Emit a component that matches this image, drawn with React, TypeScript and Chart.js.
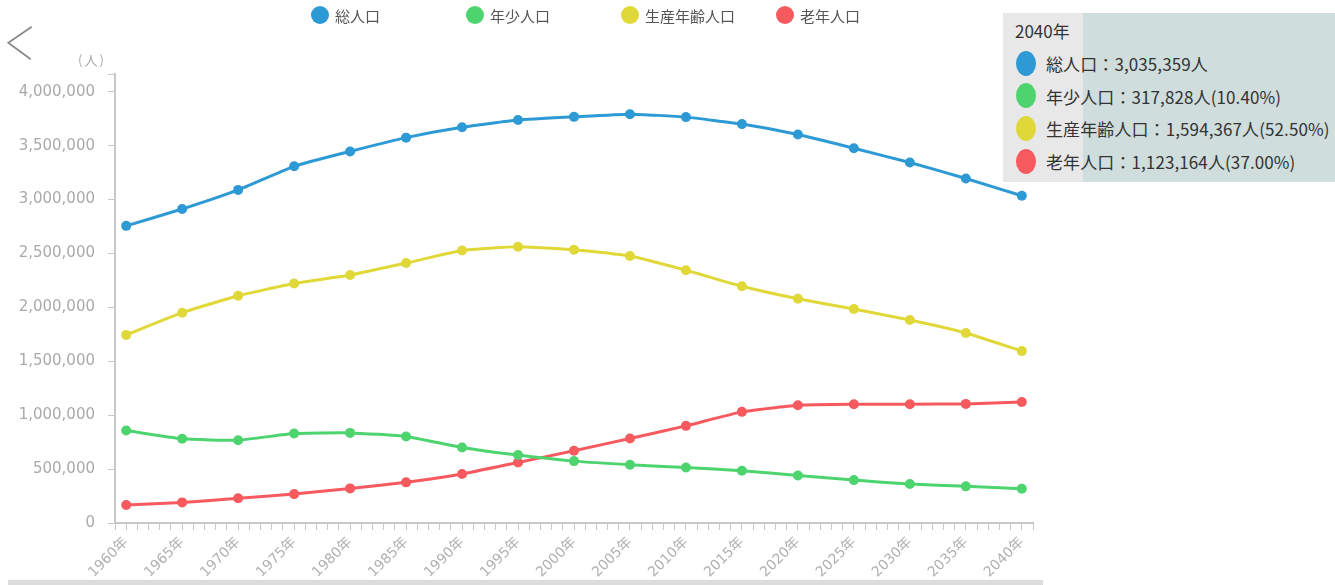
import React, { useEffect, useRef } from 'react';
import { Chart, registerables } from 'chart.js';

Chart.register(...registerables);

// ---- data ----
const years = [1960, 1965, 1970, 1975, 1980, 1985, 1990, 1995, 2000, 2005, 2010, 2015, 2020, 2025, 2030, 2035, 2040];
const totalPop = [2756271, 2912521, 3089895, 3308799, 3446804, 3574692, 3670840, 3737689, 3767393, 3792377, 3765007, 3700305, 3603000, 3476000, 3344000, 3196000, 3035359];
const youngPop = [858000, 781000, 768000, 830000, 836000, 803000, 701000, 630000, 574000, 540000, 515000, 484000, 441000, 398000, 361000, 340000, 317828];
const workingPop = [1745000, 1951000, 2108000, 2222000, 2300000, 2411000, 2528000, 2562000, 2535000, 2476000, 2344000, 2196000, 2080000, 1985000, 1883000, 1762000, 1594367];
const elderlyPop = [167000, 191000, 229000, 268000, 321000, 377000, 454000, 562000, 670000, 784000, 901000, 1031000, 1093000, 1102000, 1102000, 1105000, 1123164];

const seriesNames = ['総人口', '年少人口', '生産年齢人口', '老年人口'];
const seriesData = [totalPop, youngPop, workingPop, elderlyPop];
const seriesColors = ['#2d9ad6', '#4ed46f', '#e0d838', '#f65a5f'];

const yTickValues = [0, 500000, 1000000, 1500000, 2000000, 2500000, 3000000, 3500000, 4000000];
const yAxisTop = 4165000;
const xAxisMin = 1959;
const xAxisMax = 2041;
const unitLabel = '(人)';

const tipIndex = years.length - 1;

function fmt(n: number) {
  return n.toLocaleString('en-US');
}
function pct(v: number, total: number) {
  return (Math.floor((v / total) * 1000) / 10).toFixed(2) + '%';
}

export default function App() {
  const ref = useRef<HTMLCanvasElement>(null);

  useEffect(() => {
    const canvas = ref.current;
    if (!canvas) return;
    const xTicks: number[] = [];
    for (let y = xAxisMin; y <= xAxisMax; y++) xTicks.push(y);

    const chart = new Chart(canvas, {
      type: 'line',
      data: {
        datasets: seriesData.map((arr, i) => ({
          label: seriesNames[i],
          data: years.map((x, j) => ({ x, y: arr[j] })),
          borderColor: seriesColors[i],
          backgroundColor: seriesColors[i],
          pointBackgroundColor: seriesColors[i],
          pointBorderColor: seriesColors[i],
          pointRadius: 5,
          pointBorderWidth: 0,
          borderWidth: 3,
          tension: 0.15,
          fill: false,
        })),
      },
      options: {
        animation: false,
        responsive: false,
        maintainAspectRatio: false,
        layout: { padding: { left: 0, top: 74, right: 302, bottom: 0 } },
        plugins: {
          legend: { display: false },
          tooltip: { enabled: false },
        },
        scales: {
          x: {
            type: 'linear',
            min: xAxisMin,
            max: xAxisMax,
            afterBuildTicks: (s: any) => {
              s.ticks = xTicks.map((v) => ({ value: v }));
            },
            afterFit: (s: any) => {
              s.height = 62;
            },
            ticks: {
              autoSkip: false,
              maxRotation: 45,
              minRotation: 45,
              padding: 4,
              color: '#b0b0b0',
              font: { family: '"DejaVu Sans", "Noto Sans CJK JP", sans-serif', size: 14 },
              callback: (v: any) => (Number(v) % 5 === 0 ? v + '年' : ''),
            },
            grid: { drawOnChartArea: false, drawTicks: true, tickLength: 7, color: '#c8c8c8', lineWidth: 1 },
            border: { color: '#c8c8c8', width: 2 },
          },
          y: {
            min: 0,
            max: yAxisTop,
            afterBuildTicks: (s: any) => {
              s.ticks = [...yTickValues, yAxisTop].map((v) => ({ value: v }));
            },
            afterFit: (s: any) => {
              s.width = 115;
            },
            ticks: {
              padding: 13,
              color: '#aaaaaa',
              font: { family: '"DejaVu Sans", sans-serif', size: 15 },
              callback: (v: any) => (Number(v) % 500000 === 0 ? fmt(Number(v)) : ''),
            },
            grid: { drawOnChartArea: false, drawTicks: true, tickLength: 7, color: '#c8c8c8', lineWidth: 1 },
            border: { color: '#c8c8c8', width: 2 },
          },
        },
      },
    });
    return () => chart.destroy();
  }, []);

  const total = totalPop[tipIndex];
  const tipRows = seriesNames.map((name, i) => {
    const v = seriesData[i][tipIndex];
    return i === 0 ? `${name}：${fmt(v)}人` : `${name}：${fmt(v)}人(${pct(v, total)})`;
  });

  const cjk = '"Noto Sans CJK JP", "Noto Sans", sans-serif';

  return (
    <div style={{ position: 'absolute', left: 0, top: 0, width: 1335, height: 585, overflow: 'hidden', background: '#fff' }}>
      <canvas ref={ref} width={1335} height={585} style={{ position: 'absolute', left: 0, top: 0, display: 'block' }} />

      {/* back arrow */}
      <svg width={40} height={70} style={{ position: 'absolute', left: 0, top: 0 }}>
        <polyline points="31.7,26.7 8.3,42.7 30.7,59.3" fill="none" stroke="#8a8a8a" strokeWidth={1.8} />
      </svg>

      {/* unit label */}
      <div style={{ position: 'absolute', left: 78, top: 50, fontFamily: cjk, fontSize: 13, lineHeight: '20px', letterSpacing: 2, color: '#aaaaaa' }}>
        {unitLabel}
      </div>

      {/* legend */}
      {seriesNames.map((name, i) => (
        <div key={name} style={{ position: 'absolute', left: 320 + i * 155 - 9, top: 4, height: 22, display: 'flex', alignItems: 'center' }}>
          <div style={{ width: 18, height: 18, borderRadius: '50%', background: seriesColors[i] }} />
          <div style={{ marginLeft: 6, fontFamily: cjk, fontSize: 15, color: '#555', whiteSpace: 'nowrap' }}>{name}</div>
        </div>
      ))}

      {/* tooltip */}
      <div
        style={{
          position: 'absolute',
          left: 1003,
          top: 13,
          width: 332,
          height: 169,
          background: 'linear-gradient(to right, #e8e8e8 0px, #e8e8e8 80px, #cfdddd 80px, #cfdddd 100%)',
          fontFamily: cjk,
          color: '#333',
        }}
      >
        <div style={{ position: 'absolute', left: 12, top: 6, fontSize: 17, lineHeight: '24px', whiteSpace: 'nowrap' }}>
          {years[tipIndex]}年
        </div>
        {tipRows.map((t, i) => (
          <React.Fragment key={i}>
            <div
              style={{
                position: 'absolute',
                left: 13,
                top: 50 + i * 32.7 - 12.5,
                width: 20,
                height: 25,
                borderRadius: '50%',
                background: seriesColors[i],
              }}
            />
            <div
              style={{
                position: 'absolute',
                left: 43,
                top: 51 + i * 32.7 - 12,
                fontSize: 17,
                letterSpacing: 0.1,
                lineHeight: '24px',
                whiteSpace: 'nowrap',
              }}
            >
              {t}
            </div>
          </React.Fragment>
        ))}
      </div>

      {/* bottom bar */}
      <div style={{ position: 'absolute', left: 8, top: 580, width: 1035, height: 5, background: '#dcdcdc' }} />
    </div>
  );
}
